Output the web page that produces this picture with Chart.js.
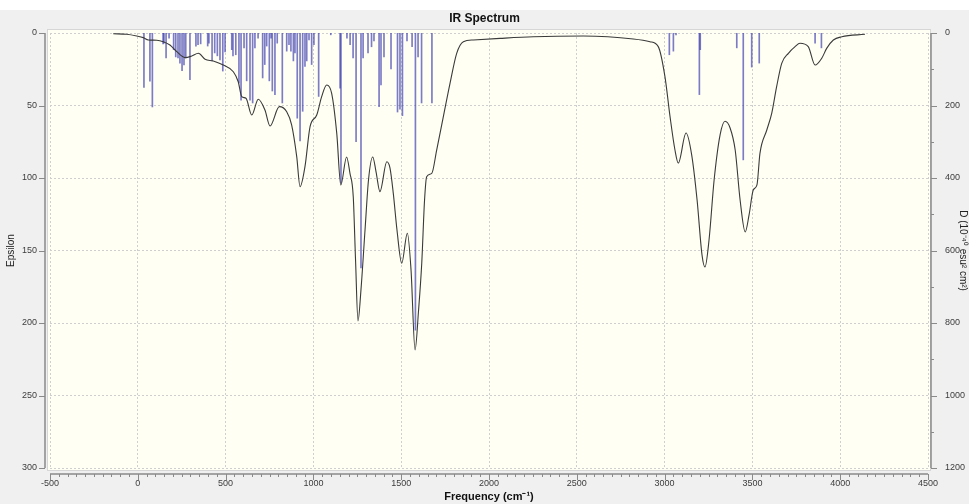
<!DOCTYPE html>
<html>
<head>
<meta charset="utf-8">
<title>IR Spectrum</title>
<script src="https://cdn.jsdelivr.net/npm/chart.js@4.4.1/dist/chart.umd.min.js"></script>
<style>
  html, body { margin: 0; padding: 0; background: #fff; }
  #wrap { width: 969px; height: 504px; }
</style>
</head>
<body>
<div id="wrap"><canvas id="irChart" width="969" height="504"></canvas></div>
<script>
// computed transitions: frequency (cm-1) and dipole strength D (10^-40 esu^2 cm^2)
const stickFreq = [35, 69, 83, 144, 149, 161, 178, 204, 216, 229, 240, 252, 263, 273, 297,
  331, 343, 358, 398, 405, 423, 438, 453, 468, 484, 497, 535, 542, 558, 576, 588, 605, 620,
  639, 654, 667, 685, 711, 723, 734, 749, 759, 766, 781, 794, 823, 848, 861, 872, 886, 895,
  908, 924, 939, 952, 962, 975, 990, 1003, 1030, 1099, 1152, 1157, 1191, 1209, 1226, 1243,
  1271, 1283, 1311, 1331, 1345, 1374, 1385, 1402, 1442, 1479, 1493, 1507, 1533, 1562, 1581,
  1596, 1616, 1675, 3027, 3050, 3065, 3198, 3203, 3411, 3448, 3496, 3539, 3857, 3893];
const stickD = [150, 133, 204, 30, 28, 69, 14, 46, 66, 69, 83, 104, 88, 69, 129,
  36, 32, 30, 36, 28, 77, 55, 63, 74, 105, 52, 46, 63, 60, 138, 185, 41, 132,
  185, 193, 41, 14, 124, 87, 36, 132, 14, 160, 170, 28, 193, 50, 32, 50, 77, 55,
  235, 298, 216, 92, 77, 19, 87, 32, 175, 5, 152, 414, 14, 32, 69, 300,
  648, 69, 55, 38, 22, 203, 143, 66, 99, 218, 210, 228, 22, 38, 820,
  66, 193, 193, 60, 50, 5, 170, 46, 41, 350, 94, 83, 28, 41];

// broadened spectrum (Epsilon)
const curveFreq = [-140, -63, -6, 31, 60, 108, 145, 183, 222, 269, 307, 345, 383, 430, 487,
  544, 572, 592, 616, 649, 686, 724, 753, 806, 848, 876, 905, 924, 952, 981, 1019, 1047,
  1076, 1104, 1133, 1156, 1189, 1208, 1227, 1240, 1254, 1271, 1294, 1314, 1338, 1357, 1379,
  1418, 1436, 1455, 1476, 1503, 1535, 1556, 1579, 1599, 1617, 1633, 1645, 1674, 1702, 1740,
  1778, 1816, 1854, 1911, 2063, 2252, 2537, 2822, 2917, 2964, 3002, 3031, 3059, 3078, 3122,
  3154, 3185, 3213, 3230, 3253, 3282, 3316, 3344, 3373, 3402, 3430, 3459, 3481, 3505, 3526,
  3543, 3582, 3610, 3638, 3667, 3705, 3743, 3771, 3818, 3857, 3895, 3923, 3961, 4009, 4141];
const curveEps = [0.5, 0.9, 2.1, 3.2, 4.8, 5.0, 6.0, 8.3, 12.9, 17.0, 15.9, 14.0, 18.1, 19.3, 22.1,
  26.7, 33.6, 43.9, 45.0, 56.6, 45.7, 53.1, 64.1, 50.8, 54.3, 63.4, 85.3, 106, 92.2, 64.6, 56.6, 43.9,
  35.9, 41.6, 69.2, 104.8, 85.5, 96.6, 112.9, 156.6, 198.6, 177, 135.9, 101, 85.5, 95.9, 109.4,
  88.8, 93, 110.6, 135.9, 158.8, 138.1, 163.4, 218.6, 191, 158.8, 115.2, 99.1, 96.8, 80.7, 57.7,
  34.7, 14, 6, 4.8, 3.7, 2.6, 2.1, 4.1, 6, 9.4, 30.1, 57.7, 80.7, 89.7, 69,
  83.9, 115.2, 153, 161.4, 142.8, 101.4, 70.3, 60.9, 65.5, 80.7, 115.2, 137.2, 125.5, 108.3, 104.8,
  83, 66.9, 55.4, 37, 20.9, 14, 9.4, 7.1, 9.4, 22.1, 17.4, 10.6, 4.8, 2.6, 0.9];

const xTicks = [-500, 0, 500, 1000, 1500, 2000, 2500, 3000, 3500, 4000, 4500];
const epsTicks = [0, 50, 100, 150, 200, 250, 300];
const dTicks = [0, 200, 400, 600, 800, 1000, 1200];

const tickFont = { family: "'Liberation Sans', Arial, sans-serif", size: 9 };
const tickColor = '#3c3c3c';
const plain = v => String(v);

// grey window, pale plot area
const backdrop = {
  id: 'backdrop',
  beforeDraw(chart) {
    const { ctx, chartArea: a, width, height } = chart;
    ctx.save();
    ctx.fillStyle = '#ffffff';
    ctx.fillRect(0, 0, width, height);
    ctx.fillStyle = '#f0f0f0';
    ctx.fillRect(0, 10, width, height - 10);
    ctx.fillStyle = '#fffff4';
    ctx.fillRect(a.left - 2, a.top - 3, a.right - a.left + 4, a.bottom - a.top + 5);
    ctx.strokeStyle = '#d6d6d6';
    ctx.lineWidth = 1;
    ctx.strokeRect(a.left - 2.5, a.top - 3.5, a.right - a.left + 5, a.bottom - a.top + 6);
    ctx.restore();
  }
};

// detached axis lines with major/minor tick marks
const axisFrame = {
  id: 'axisFrame',
  afterDraw(chart) {
    const { ctx, chartArea: a, scales } = chart;
    const seg = (x1, y1, x2, y2) => { ctx.beginPath(); ctx.moveTo(x1, y1); ctx.lineTo(x2, y2); ctx.stroke(); };
    ctx.save();
    ctx.strokeStyle = '#8a8a8a';
    ctx.lineWidth = 1.5;
    const yb = a.bottom + 6;
    seg(scales.x.getPixelForValue(-500), yb, scales.x.getPixelForValue(4500), yb);
    const xl = a.left - 5;
    seg(xl, scales.y.getPixelForValue(0), xl, scales.y.getPixelForValue(300));
    const xr = a.right + 3;
    seg(xr, scales.y2.getPixelForValue(0), xr, scales.y2.getPixelForValue(1200));
    ctx.lineWidth = 1;
    for (let v = -500; v <= 4500; v += 50) {
      const px = Math.round(scales.x.getPixelForValue(v)) + 0.5;
      seg(px, yb, px, yb + (v % 500 === 0 ? 6 : 3));
    }
    epsTicks.forEach(v => {
      const py = Math.round(scales.y.getPixelForValue(v)) + 0.5;
      seg(xl - 6, py, xl, py);
    });
    for (let v = 0; v <= 1200; v += 100) {
      const py = Math.round(scales.y2.getPixelForValue(v)) + 0.5;
      seg(xr, py, xr + (v % 200 === 0 ? 6 : 3), py);
    }
    ctx.restore();
  }
};

const ctx = document.getElementById('irChart').getContext('2d');
new Chart(ctx, {
  data: {
    datasets: [{
      type: 'line',
      data: curveFreq.map((f, i) => ({ x: f, y: curveEps[i] })),
      yAxisID: 'y',
      borderColor: '#3a3a3a',
      borderWidth: 1.1,
      pointRadius: 0,
      cubicInterpolationMode: 'monotone',
      order: 0
    }, {
      type: 'bar',
      data: stickFreq.map((f, i) => ({ x: f, y: stickD[i] })),
      yAxisID: 'y2',
      backgroundColor: 'rgba(60, 60, 175, 0.68)',
      barThickness: 1,
      order: 1
    }]
  },
  options: {
    responsive: false,
    animation: false,
    layout: { padding: 0 },
    plugins: {
      legend: { display: false },
      tooltip: { enabled: false },
      title: {
        display: true,
        text: 'IR Spectrum',
        color: '#111',
        font: { family: "'Liberation Sans', Arial, sans-serif", size: 12, weight: 'bold' },
        padding: { top: 11, bottom: 7.6 }
      }
    },
    scales: {
      x: {
        type: 'linear',
        offset: false,
        min: -500,
        max: 4500,
        afterBuildTicks: s => { s.ticks = xTicks.map(v => ({ value: v })); },
        afterFit: s => { s.height = 36; },
        grid: { color: '#cfcfcf', drawTicks: false, offset: false },
        border: { display: false, dash: [2, 2] },
        ticks: { font: tickFont, color: tickColor, padding: 10, maxRotation: 0, callback: plain },
        title: {
          display: true,
          text: 'Frequency (cm⁻¹)',
          color: '#111',
          font: { family: "'Liberation Sans', Arial, sans-serif", size: 11, weight: 'bold' },
          padding: 0
        }
      },
      y: {
        position: 'left',
        reverse: true,
        min: 0,
        max: 300,
        afterBuildTicks: s => { s.ticks = epsTicks.map(v => ({ value: v })); },
        afterFit: s => { s.width = 50; },
        grid: { color: '#cfcfcf', drawTicks: false },
        border: { display: false, dash: [2, 2] },
        ticks: { font: tickFont, color: tickColor, padding: 13, callback: plain },
        title: {
          display: true,
          text: 'Epsilon',
          color: '#222',
          font: { family: "'Liberation Sans', Arial, sans-serif", size: 10 },
          padding: { top: 5, bottom: 0 }
        }
      },
      y2: {
        position: 'right',
        reverse: true,
        min: 0,
        max: 1200,
        afterBuildTicks: s => { s.ticks = dTicks.map(v => ({ value: v })); },
        afterFit: s => { s.width = 41; },
        grid: { display: false },
        border: { display: false },
        ticks: { font: tickFont, color: tickColor, padding: 9, callback: plain },
        title: {
          display: true,
          text: 'D (10⁻⁴⁰ esu² cm²)',
          color: '#222',
          font: { family: "'Liberation Sans', Arial, sans-serif", size: 10 },
          padding: 0
        }
      }
    }
  },
  plugins: [backdrop, axisFrame]
});
</script>
</body>
</html>
